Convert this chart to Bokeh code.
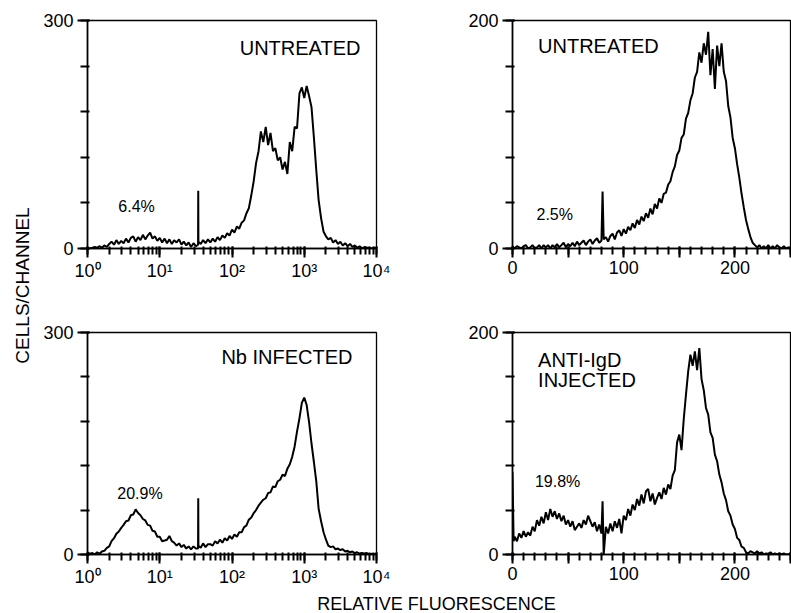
from math import pi
from bokeh.plotting import figure
from bokeh.models import Range1d, LogTicker, SingleIntervalTicker, Label
from bokeh.layouts import row, column
from bokeh.embed import file_html
from bokeh.resources import INLINE

FONT = "Liberation Sans"

# ---------------- data ----------------
# fluorescence channel values for log panels (4 decades)
log_fluor = [1.00, 1.08, 1.17, 1.26, 1.36, 1.47, 1.58, 1.71, 1.85, 2.00,
             2.15, 2.33, 2.51, 2.71, 2.93, 3.16, 3.41, 3.69, 3.98, 4.30,
             4.64, 5.01, 5.41, 5.84, 6.31, 6.81, 7.36, 7.94, 8.58, 9.26,
             10.0, 10.8, 11.7, 12.6, 13.6, 14.7, 15.8, 17.1, 18.5, 20.0,
             21.5, 23.3, 25.1, 27.1, 29.3, 31.6, 33.9, 34.1, 34.3, 36.9,
             39.8, 43.0, 46.4, 50.1, 54.1, 58.4, 63.1, 68.1, 73.6, 79.4,
             85.8, 92.6, 100, 108, 117, 126, 136, 147, 158, 171,
             185, 200, 215, 233, 251, 271, 293, 316, 341, 369,
             398, 430, 464, 501, 541, 584, 631, 681, 736, 794,
             858, 926, 1000, 1080, 1170, 1260, 1360, 1470, 1580, 1710,
             1850, 2000, 2150, 2330, 2510, 2710, 2930, 3160, 3410, 3690,
             3980, 4300, 4640, 5010, 5410, 5840, 6310, 6810, 7360, 7940,
             8580, 9260, 10000]

untreated_log = [1, 0, 1, 2, 1, 3, 1, 4, 2, 6,
                 9, 5, 11, 6, 10, 7, 13, 8, 14, 16,
                 9, 15, 11, 18, 12, 17, 21, 13, 16, 10,
                 14, 8, 13, 7, 12, 6, 11, 8, 12, 5,
                 9, 4, 8, 2, 7, 3, 5, 76, 9, 6,
                 11, 7, 12, 8, 13, 9, 15, 11, 17, 14,
                 20, 17, 25, 21, 29, 26, 34, 37, 46, 53,
                 70, 89, 112, 128, 154, 140, 160, 136, 152, 128,
                 132, 116, 120, 104, 114, 98, 140, 128, 160, 158,
                 204, 212, 198, 214, 200, 186, 146, 102, 64, 40,
                 22, 16, 12, 14, 8, 11, 6, 9, 4, 7,
                 3, 6, 2, 4, 1, 3, 0, 2, 1, 1,
                 0, 1, 0]

nb_infected = [3, 1, 2, 0, 3, 1, 4, 5, 9, 11,
               18, 22, 28, 31, 36, 40, 45, 46, 53, 54,
               61, 56, 53, 48, 46, 40, 39, 32, 31, 24,
               24, 18, 19, 20, 25, 18, 16, 12, 15, 10,
               13, 8, 11, 7, 11, 8, 8, 76, 12, 9,
               15, 10, 14, 14, 12, 18, 15, 20, 16, 22,
               19, 25, 21, 27, 24, 30, 30, 37, 39, 47,
               50, 56, 60, 66, 70, 74, 76, 83, 84, 92,
               91, 99, 101, 108, 106, 116, 122, 132, 146, 166,
               184, 205, 212, 202, 178, 150, 125, 98, 62, 45,
               30, 20, 12, 10, 11, 7, 8, 6, 7, 4,
               5, 3, 4, 2, 3, 1, 2, 1, 2, 0,
               1, 0, 1]

# linear channels for the untreated / anti-IgD panels
lin_channel = [0, 1, 2, 4, 6, 8, 10, 12, 14, 16, 18, 20,
               22, 24, 26, 28, 30, 32, 34, 36, 38, 40,
               42, 44, 46, 48, 50, 52, 54, 56, 58, 60,
               62, 64, 66, 68, 70, 72, 74, 76, 78, 80, 81,
               82, 84, 86, 88, 90, 92, 94, 96, 98, 100,
               102, 104, 106, 108, 110, 112, 114, 116, 118, 120,
               122, 124, 126, 128, 130, 132, 134, 136, 138, 140,
               142, 144, 146, 148, 150, 152, 154, 156, 158, 160,
               162, 164, 166, 168, 170, 172, 174, 176, 178, 180,
               182, 184, 186, 188, 190, 192, 194, 196, 198, 200,
               202, 204, 206, 208, 210, 212, 214, 216, 218, 220,
               222, 224, 226, 228, 230, 232, 234, 236, 238, 240,
               242, 244, 246, 248, 250]

untreated_lin = [2, 1,
                 0, 2, 1, 0, 2, 3, 0, 1, 3, 0,
                 1, 3, 0, 3, 1, 3, 0, 3, 1, 4,
                 1, 3, 5, 1, 4, 2, 5, 2, 6, 3,
                 5, 7, 3, 6, 8, 4, 7, 9, 5, 7,
                 50,
                 8, 10, 6, 11, 13, 8, 14, 16, 11, 17,
                 13, 19, 16, 22, 18, 25, 21, 28, 24, 31,
                 27, 35, 30, 39, 35, 44, 40, 48, 49, 56,
                 59, 67, 72, 82, 86, 97, 100, 114, 119, 130,
                 136, 150, 155, 172, 163, 180, 170, 190, 152, 175,
                 140, 178, 160, 180, 155, 147, 125, 115, 97, 88,
                 74, 62, 48, 36, 25, 17, 10, 5, 3, 1,
                 3, 0, 2, 0, 3, 0, 2, 0, 3, 1,
                 0, 2, 0, 1, 0]

anti_igd = [74, 12,
            16, 12, 19, 15, 21, 16, 20, 17, 25, 21,
            31, 26, 34, 28, 38, 31, 41, 34, 39, 32,
            37, 30, 35, 27, 31, 25, 30, 22, 25, 28,
            24, 31, 27, 35, 30, 25, 29, 21, 27, 19,
            48,
            0, 25, 19, 28, 21, 30, 24, 32, 19, 35,
            31, 41, 35, 45, 40, 50, 44, 54, 46, 57,
            59, 48, 55, 45, 51, 56, 50, 60, 54, 63,
            59, 71, 76, 101, 108, 94, 122, 144, 165, 180,
            170, 183, 166, 186, 158, 148, 132, 126, 110, 105,
            90, 84, 72, 65, 55, 49, 39, 35, 27, 23,
            15, 13, 7, 6, 2, 1, 3, 2, 1, 3,
            1, 2, 0, 1, 0, 2, 0, 1, 0, 1,
            0, 1, 0, 0, 1]

# tick labels
log_major = [1, 10, 100, 1000, 10000]
log_labels = ["10\u2070", "10\u00b9", "10\u00b2", "10\u00b3", "10\u2074"]
lin_major = [0, 50, 100, 150, 200, 250]
lin_labels = ["0", "", "100", "", "200", ""]


def panel(width, height, bl, br, bt, bb, log, ymax):
    kw = dict(width=width, height=height, output_backend="svg",
              toolbar_location=None, min_border_left=bl, min_border_right=br,
              min_border_top=bt, min_border_bottom=bb,
              y_range=Range1d(0, ymax))
    if log:
        p = figure(x_axis_type="log", x_range=Range1d(1, 10000), **kw)
        p.xaxis.ticker = LogTicker(num_minor_ticks=10, desired_num_ticks=5)
        p.xaxis.major_label_overrides = {t: s for t, s in zip(log_major, log_labels)}
    else:
        p = figure(x_range=Range1d(0, 250), **kw)
        p.xaxis.ticker = SingleIntervalTicker(interval=50, num_minor_ticks=5)
        p.xaxis.major_label_overrides = {t: s for t, s in zip(lin_major, lin_labels)}
    p.yaxis.ticker = SingleIntervalTicker(interval=ymax, num_minor_ticks=5)
    p.grid.visible = False
    p.outline_line_color = "black"
    p.outline_line_width = 1.3
    p.background_fill_color = "white"
    p.border_fill_color = "white"
    for ax in (p.xaxis, p.yaxis):
        ax.axis_line_width = 1.6
        ax.axis_line_color = "black"
        ax.major_tick_line_width = 2
        ax.minor_tick_line_width = 2
        ax.major_tick_line_color = "black"
        ax.minor_tick_line_color = "black"
        ax.major_tick_in = 2
        ax.minor_tick_in = 2
        ax.major_label_text_font = FONT
        ax.major_label_text_font_size = "18px"
        ax.major_label_text_color = "black"
    p.xaxis.major_tick_out = 9
    p.xaxis.minor_tick_out = 6
    p.xaxis.major_label_standoff = 3
    p.yaxis.major_tick_out = 10
    p.yaxis.minor_tick_out = 7
    p.yaxis.major_label_standoff = 4
    return p


def label(p, x, y, text, size, align="left"):
    p.add_layout(Label(x=x, y=y, text=text, text_font=FONT,
                       text_font_size=size, text_align=align,
                       text_baseline="middle", text_color="black"))


LW = 2.0

tl = panel(362, 290, 49, 24, 20, 42, True, 300)
tl.line(log_fluor, untreated_log, line_color="black", line_width=LW)
label(tl, 6000, 264, "UNTREATED", "20px", "right")
label(tl, 4.77, 55, "6.4%", "16px", "center")

tr = panel(391, 290, 112, 1, 20, 42, False, 200)
tr.line(lin_channel, untreated_lin, line_color="black", line_width=LW)
label(tr, 23, 178, "UNTREATED", "20px")
label(tr, 38, 30, "2.5%", "16px", "center")

bl_ = panel(362, 300, 49, 24, 38, 36, True, 300)
bl_.line(log_fluor, nb_infected, line_color="black", line_width=LW)
label(bl_, 4660, 267, "Nb INFECTED", "20px", "right")
label(bl_, 5.33, 83, "20.9%", "16px", "center")

br_ = panel(391, 300, 112, 1, 42, 33, False, 200)
br_.line(lin_channel, anti_igd, line_color="black", line_width=LW)
label(br_, 23, 175, "ANTI-IgD", "20px")
label(br_, 23, 157, "INJECTED", "20px")
label(br_, 40.6, 66, "19.8%", "16px", "center")


def blank(width, height):
    f = figure(width=width, height=height, x_range=Range1d(0, width),
               y_range=Range1d(0, height), output_backend="svg",
               toolbar_location=None, x_axis_location=None,
               y_axis_location=None, min_border_left=0, min_border_right=0,
               min_border_top=0, min_border_bottom=0)
    f.grid.visible = False
    f.outline_line_color = None
    return f


ylab = blank(38, 613)
ylab.add_layout(Label(x=21.5, y=328, text="CELLS/CHANNEL", angle=pi / 2,
                      text_font=FONT, text_font_size="19px",
                      text_align="center", text_baseline="middle",
                      text_color="black"))

xlab = blank(753, 23)
xlab.add_layout(Label(x=398, y=10, text="RELATIVE FLUORESCENCE",
                      text_font=FONT, text_font_size="18px",
                      text_align="center", text_baseline="middle",
                      text_color="black"))

layout = row(ylab, column(row(tl, tr), row(bl_, br_), xlab))

with open("out.html", "w") as fh:
    fh.write(file_html(layout, INLINE))
